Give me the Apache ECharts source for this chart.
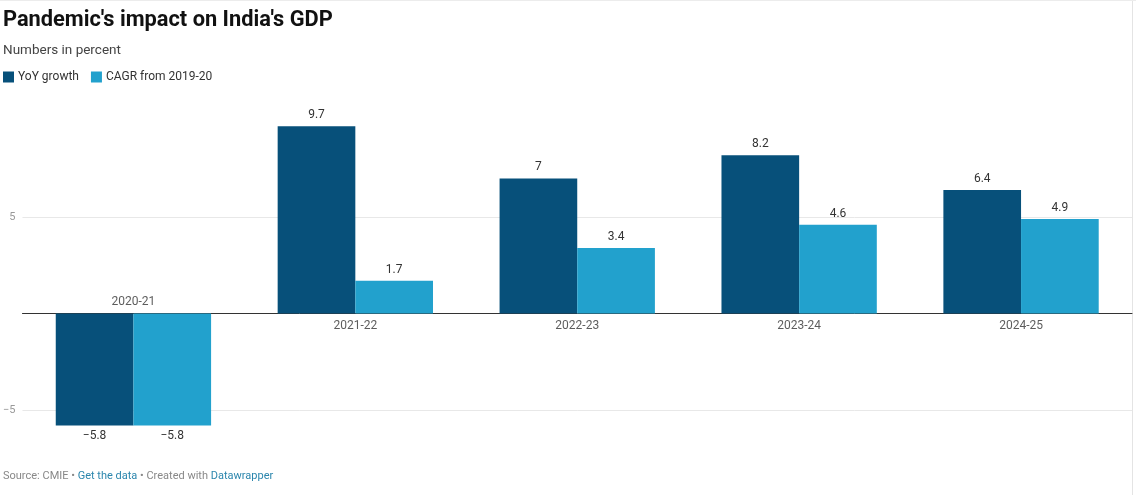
<!DOCTYPE html>
<html>
<head>
<meta charset="utf-8">
<script src="https://cdn.jsdelivr.net/npm/echarts@6/dist/echarts.min.js"></script>
<style>
  html, body { margin: 0; padding: 0; background: #fff; }
  #chart { width: 1136px; height: 495px; }
</style>
</head>
<body>
<div id="chart"></div>
<script>
// data
var years = ['2020-21', '2021-22', '2022-23', '2023-24', '2024-25'];
var yoyGrowth = [-5.8, 9.7, 7, 8.2, 6.4];
var cagr = [-5.8, 1.7, 3.4, 4.6, 4.9];
var yTicks = [5, -5];

var darkBlue = '#07507a';
var lightBlue = '#22a1cd';
var font = 'Roboto, "Noto Sans", sans-serif';

function fmt(v) {
    return v < 0 ? '\u2212' + Math.abs(v) : String(v);
}

var valueLabel = {
    show: true,
    position: 'top',
    distance: 5,
    fontFamily: font,
    fontSize: 12,
    color: '#333',
    formatter: function (p) { return fmt(p.value); }
};

function barData(arr) {
    return arr.map(function (v) {
        return v < 0 ? { value: v, label: { position: 'bottom' } } : v;
    });
}

var myChart = echarts.init(document.getElementById('chart'));
var option = {
    backgroundColor: '#fff',
    animation: false,
    title: [{
        text: "Pandemic's impact on India's GDP",
        left: 3,
        top: 10,
        padding: 0,
        textStyle: { fontFamily: font, fontSize: 21.8, fontWeight: 'bold', color: '#111' }
    }, {
        text: 'Numbers in percent',
        left: 3,
        top: 44,
        padding: 0,
        textStyle: { fontFamily: font, fontSize: 13.5, fontWeight: 'normal', color: '#444' }
    }],
    legend: {
        data: ['YoY growth', 'CAGR from 2019-20'],
        left: 3,
        top: 71,
        padding: 0,
        icon: 'rect',
        itemWidth: 11,
        itemHeight: 11,
        itemGap: 12,
        textStyle: { fontFamily: font, fontSize: 12, color: '#333', padding: [0, 0, 0, -1] }
    },
    grid: { left: 22, right: 4, top: 120.5, bottom: 36.75 },
    xAxis: {
        type: 'category',
        data: years,
        axisLine: { onZero: true, lineStyle: { color: '#333', width: 1 } },
        axisTick: { show: false },
        axisLabel: { show: false }
    },
    yAxis: {
        type: 'value',
        min: -7.5,
        max: 10,
        interval: 2.5,
        axisLine: { show: false },
        axisTick: { show: false },
        axisLabel: {
            fontFamily: font,
            fontSize: 11,
            color: '#999',
            margin: 7,
            formatter: function (v) { return yTicks.indexOf(v) >= 0 ? fmt(v) : ''; }
        },
        splitLine: {
            lineStyle: {
                color: ['transparent', '#e8e8e8', 'transparent', 'transparent',
                        'transparent', '#e8e8e8', 'transparent', 'transparent'],
                width: 1
            }
        }
    },
    series: [{
        name: 'YoY growth',
        type: 'bar',
        data: barData(yoyGrowth),
        itemStyle: { color: darkBlue },
        barGap: '0%',
        barCategoryGap: '30%',
        label: valueLabel
    }, {
        name: 'CAGR from 2019-20',
        type: 'bar',
        data: barData(cagr),
        itemStyle: { color: lightBlue },
        label: valueLabel
    }, {
        // category names sit on the zero line, on the side away from the bars
        name: 'categories',
        type: 'scatter',
        symbolSize: 0,
        silent: true,
        data: years.map(function (y, i) {
            return {
                value: [y, 0],
                label: { position: yoyGrowth[i] < 0 ? 'top' : 'bottom' }
            };
        }),
        label: {
            show: true,
            distance: 6,
            fontFamily: font,
            fontSize: 12,
            color: '#333',
            formatter: function (p) { return p.value[0]; }
        }
    }],
    graphic: [{
        type: 'text',
        left: 3,
        top: 471,
        style: {
            text: '{g|Source: CMIE • }{b|Get the data}{g| • Created with }{b|Datawrapper}',
            rich: {
                g: { fontFamily: font, fontSize: 11, fill: '#888' },
                b: { fontFamily: font, fontSize: 11, fill: '#2b86ad' }
            }
        }
    }, {
        type: 'line',
        shape: { x1: 1132.5, y1: 0, x2: 1132.5, y2: 495 },
        style: { stroke: '#e4e4e4', lineWidth: 1 }
    }, {
        type: 'line',
        shape: { x1: 0, y1: 0.5, x2: 1136, y2: 0.5 },
        style: { stroke: '#ececec', lineWidth: 1 }
    }]
};
myChart.setOption(option);
</script>
</body>
</html>
